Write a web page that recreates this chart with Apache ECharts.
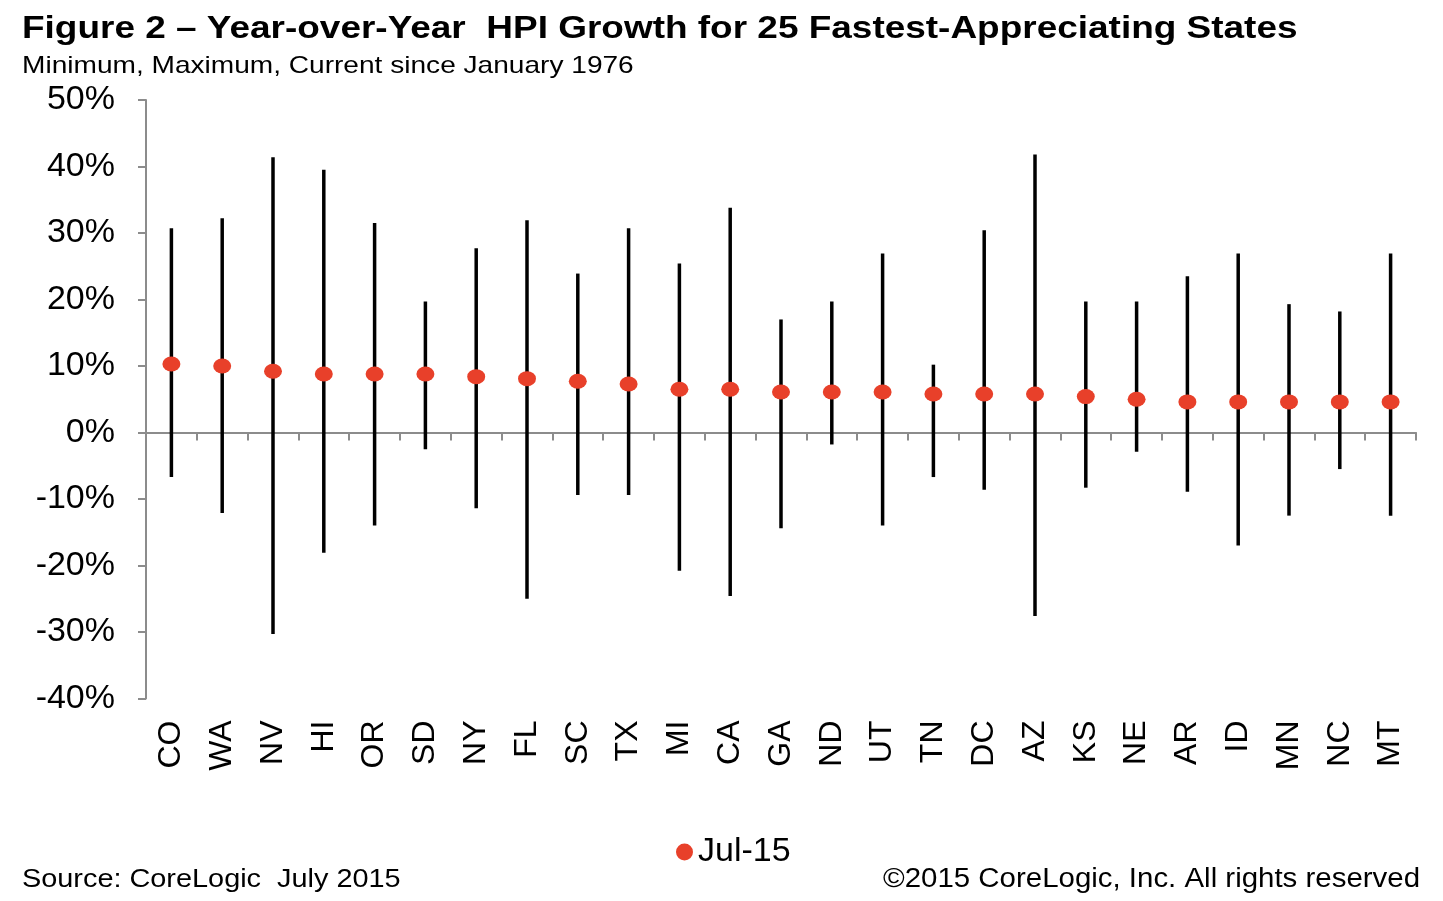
<!DOCTYPE html>
<html><head><meta charset="utf-8">
<script src="https://cdn.jsdelivr.net/npm/echarts@6/dist/echarts.min.js"></script>
<style>html,body{margin:0;padding:0;background:#fff}#c{width:1443px;height:901px}</style>
</head><body><div id="c"></div>
<script>
const states = ['CO','WA','NV','HI','OR','SD','NY','FL','SC','TX','MI','CA','GA','ND','UT','TN','DC','AZ','KS','NE','AR','ID','MN','NC','MT'];
const minVals = [-6.7,-12.1,-30.3,-18.1,-14.0,-2.5,-11.4,-25.0,-9.4,-9.4,-20.8,-24.6,-14.4,-1.8,-14.0,-6.7,-8.6,-27.6,-8.3,-2.9,-8.9,-17.0,-12.5,-5.5,-12.5];
const maxVals = [30.7,32.2,41.4,39.5,31.5,19.7,27.7,31.9,23.9,30.7,25.4,33.8,17.0,19.7,26.9,10.2,30.4,41.8,19.7,19.7,23.5,26.9,19.3,18.2,26.9];
const current = [10.3,10.0,9.2,8.8,8.8,8.8,8.4,8.1,7.7,7.3,6.5,6.5,6.1,6.1,6.1,5.8,5.8,5.8,5.4,5.0,4.6,4.6,4.6,4.6,4.6];
const yTicks = {min:-40, max:50, interval:10};
const titleText = 'Figure 2 \u2013 Year-over-Year  HPI Growth for 25 Fastest-Appreciating States';
const subtitleText = 'Minimum, Maximum, Current since January 1976';
const sourceText = 'Source: CoreLogic  July 2015';
const copyrightText = '\u00a92015 CoreLogic, Inc. All rights reserved';

const chart = echarts.init(document.getElementById('c'));
const FONT = '"Liberation Sans", Arial, sans-serif';
function txt(text, x, y, size, weight, align, sx){
  return {type:'text', x:x, y:y, scaleX:sx, scaleY:1, silent:true,
    style:{text:text, font: weight+' '+size+'px '+FONT, fill:'#000', textAlign:align, textVerticalAlign:'middle'}};
}
chart.setOption({
  animation:false,
  backgroundColor:'#fff',
  textStyle:{fontFamily:FONT},
  graphic:[
    txt(titleText, 22, 29, 32, 'bold', 'left', 1.155),
    txt(subtitleText, 22, 66, 24, 'normal', 'left', 1.17),
    txt(sourceText, 22, 880, 26, 'normal', 'left', 1.11),
    txt(copyrightText, 1420, 880, 27, 'normal', 'right', 1.09)
  ],
  legend:{show:true, left:671, top:830, icon:'circle', itemWidth:17, itemHeight:17, itemGap:8,
    textStyle:{fontFamily:FONT, fontSize:34, color:'#000'}, data:['Jul-15']},
  grid:{left:146, right:27, top:100, bottom:202.5, containLabel:false},
  xAxis:[
    {type:'category', data:states, boundaryGap:true,
     axisLine:{onZero:true, lineStyle:{color:'#8c8c8c', width:2}},
     axisTick:{show:true, length:8, inside:false, lineStyle:{color:'#8c8c8c', width:2}},
     axisLabel:{show:false}, splitLine:{show:false}},
    {type:'category', data:states, boundaryGap:true, position:'bottom',
     axisLine:{show:false, onZero:false}, axisTick:{show:false}, splitLine:{show:false},
     axisLabel:{show:true, rotate:90, margin:22, fontFamily:FONT, fontSize:32, color:'#000', interval:0}}
  ],
  yAxis:{type:'value', min:yTicks.min, max:yTicks.max, interval:yTicks.interval,
    axisLine:{show:true, lineStyle:{color:'#8c8c8c', width:2}},
    axisTick:{show:true, length:8, inside:false, lineStyle:{color:'#8c8c8c', width:2}},
    splitLine:{show:false},
    axisLabel:{formatter:v=>v+'%', fontFamily:FONT, fontSize:34, color:'#000', margin:31}},
  series:[
    {type:'custom', name:'Range', xAxisIndex:0, yAxisIndex:0,
     data: states.map((s,i)=>[i, minVals[i], maxVals[i]]),
     renderItem:function(params, api){
       const p1 = api.coord([api.value(0), api.value(1)]);
       const p2 = api.coord([api.value(0), api.value(2)]);
       return {type:'line', shape:{x1:p1[0], y1:p1[1], x2:p2[0], y2:p2[1]},
               style:{stroke:'#000', lineWidth:3.5}};
     }, z:2},
    {type:'scatter', name:'Jul-15', xAxisIndex:0, yAxisIndex:0, data:current,
     symbol:'circle', symbolSize:[18,15], itemStyle:{color:'#E8402A', opacity:1}, z:3}
  ]
});
</script></body></html>
